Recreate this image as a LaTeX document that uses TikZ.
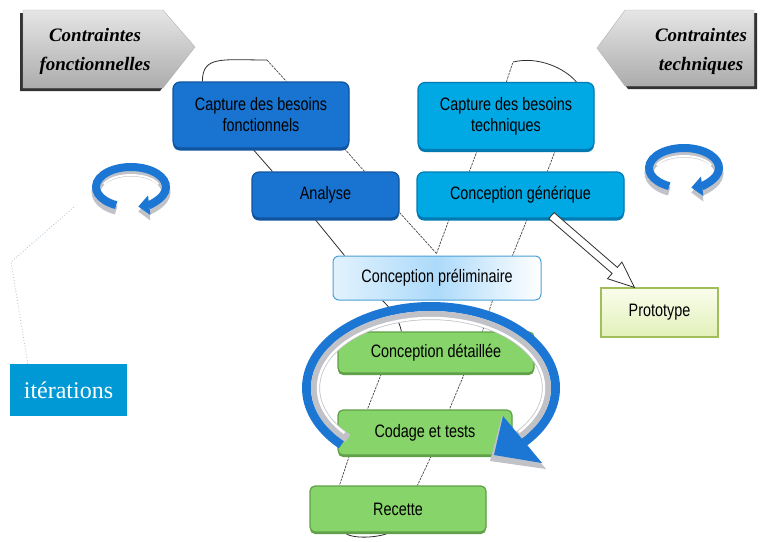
\documentclass[tikz,border=0pt]{standalone}
\usepackage{fontspec}
\setmainfont{Liberation Sans}[FakeStretch=0.8]
\newfontfamily\ctfont{Liberation Serif}
\newfontfamily\itfont{Liberation Serif}
\usetikzlibrary{calc,shadows,arrows.meta}
\pgfdeclarelayer{bg}
\pgfsetlayers{bg,main}
\definecolor{fblue}{RGB}{24,116,208}
\definecolor{fblueD}{RGB}{16,84,160}
\definecolor{tblue}{RGB}{0,168,228}
\definecolor{tblueD}{RGB}{0,122,178}
\definecolor{gfill}{RGB}{134,212,106}
\definecolor{gdraw}{RGB}{95,160,72}
\definecolor{cpdraw}{RGB}{76,160,214}
\definecolor{cplight}{RGB}{172,218,250}
\definecolor{prdraw}{RGB}{160,190,90}
\definecolor{prtop}{RGB}{250,253,236}
\definecolor{prbot}{RGB}{226,240,185}
\definecolor{ringblue}{RGB}{28,118,212}
\definecolor{silver}{RGB}{192,194,200}
\definecolor{iterblue}{RGB}{0,153,213}
\definecolor{linec}{RGB}{45,45,45}
\definecolor{dotc}{RGB}{185,200,212}
\newcommand\smallring[1]{%
  \begin{scope}[shift={#1}]
    \draw[line width=9pt, silver, -{Triangle[length=11pt,width=20pt]}]
      (0,5) ++(115:35 and 20) arc[start angle=115, end angle=438, x radius=35, y radius=20];
    \draw[line width=2pt, white]
      (0,2) ++(200:29 and 14) arc[start angle=200, end angle=340, x radius=29, y radius=14];
    \draw[line width=8pt, ringblue, -{Triangle[length=11pt,width=19pt]}]
      (0,0) ++(115:35 and 20) arc[start angle=115, end angle=438, x radius=35, y radius=20];
  \end{scope}}
\begin{document}
\begin{tikzpicture}[x=1pt,y=-1pt,
  box/.style={rounded corners=7pt, line width=1.2pt, align=center, inner sep=0pt,
    font=\fontsize{18}{21}\selectfont},
  fbox/.style={box, fill=fblue, draw=fblueD,
    drop shadow={shadow xshift=0pt, shadow yshift=-2.5pt, fill=fblueD, opacity=1}},
  tbox/.style={box, fill=tblue, draw=tblueD,
    drop shadow={shadow xshift=0pt, shadow yshift=-2.5pt, fill=tblueD, opacity=1}},
  gbox/.style={box, rounded corners=5pt, fill=gfill, draw=gdraw,
    drop shadow={shadow xshift=0pt, shadow yshift=-2pt, fill=gdraw, opacity=1}},
  cpbox/.style={box, rounded corners=6pt, draw=cpdraw, line width=1pt,
    left color=cplight!35, right color=white, middle color=cplight},
  prbox/.style={box, rounded corners=0pt, draw=prdraw, line width=1.2pt,
    top color=prtop, bottom color=prbot},
  iterbox/.style={fill=iterblue, text=white, inner sep=0pt,
    font=\itfont\fontsize{24}{28}\selectfont},
  ctxt/.style={align=center, inner sep=0pt,
    font=\ctfont\bfseries\itshape\fontsize{19}{29}\selectfont},
  rib/.style={draw=linec, line width=0.8pt},
  ribd/.style={draw=gray!55!black, line width=0.7pt, dash pattern=on 2.5pt off 1pt},
  shell/.style={top color=gray!20, middle color=white, bottom color=gray!65, draw=gray!60}
]
\useasboundingbox (0,0) rectangle (760,541);

% contraintes shapes
\fill[black!80] (20,13) -- (160,13) -- (192,50) -- (160,91) -- (20,91) -- cycle;
\path[shell] (23,10) -- (163,10) -- (195,47) -- (163,88) -- (23,88) -- cycle;
\node[ctxt] (cfo) at (95,51) {Contraintes\\fonctionnelles};

\fill[black!80] (600,51) -- (628,13) -- (757,13) -- (757,89) -- (628,89) -- cycle;
\path[shell] (597,48) -- (625,10) -- (754,10) -- (754,86) -- (625,86) -- cycle;
\node[ctxt] (cte) at (701,51) {Contraintes\\techniques};

% boxes
\node[fbox, minimum width=176pt, minimum height=66pt] (cbf) at (261,115) {Capture des besoins\\fonctionnels};
\node[fbox, minimum width=147pt, minimum height=46pt] (ana) at (325.5,195) {Analyse};
\node[tbox, minimum width=176pt, minimum height=67pt] (cbt) at (506,116) {Capture des besoins\\techniques};
\node[tbox, minimum width=207pt, minimum height=46pt] (cg) at (520.5,195) {Conception générique};
\node[cpbox, minimum width=208pt, minimum height=44pt] (cp) at (437,278) {Conception préliminaire};
\node[prbox, minimum width=117pt, minimum height=49pt] (proto) at (659.5,312.5) {Prototype};
\node[gbox, minimum width=196pt, minimum height=41pt] (cd) at (436,352.5) {Conception détaillée};
\node[gbox, minimum width=174pt, minimum height=45pt] (ct) at (425,432.5) {Codage et tests};
\node[gbox, minimum width=176pt, minimum height=46pt] (rec) at (398,509) {Recette};
\node[iterbox, minimum width=117pt, minimum height=52pt] (iter) at (68.5,390) {itérations};

\coordinate (loopL) at (267,60);
\coordinate (loopR) at (513,62);
\coordinate (yj) at ([xshift=104pt, yshift=2pt]cp.north west);
\coordinate (ringLend) at (75,206);
\coordinate (bendL) at (11,262);

\begin{pgfonlayer}{bg}
% left arm
\draw[rib] ([xshift=30pt]cbf.north west) .. controls +(0,-26) and +(-45,0) .. (loopL);
\draw[ribd] (loopL) -- ([xshift=114pt]cbf.north west);
\draw[rib] ([xshift=80pt]cbf.south west) -- ([xshift=21pt]ana.north west);
\draw[ribd] ([xshift=172pt]cbf.south west) -- ([xshift=113pt]ana.north west);
\draw[rib] ([xshift=63pt]ana.south west) -- ([xshift=12pt]cp.north west);
\draw[ribd] ([yshift=6pt]ana.south east) -- (yj);
% right arm
\draw[ribd] ([xshift=89pt]cbt.north west) -- (loopR);
\draw[rib] (loopR) .. controls +(25,-6) and +(-12,-14) .. ([xshift=159pt]cbt.north west);
\draw[ribd] ([xshift=60pt]cbt.south west) -- ([xshift=53pt]cg.north west);
\draw[ribd] ([xshift=138pt]cbt.south west) -- ([xshift=131pt]cg.north west);
\draw[ribd] ([xshift=33pt]cg.south west) -- (yj);
\draw[ribd] ([xshift=111pt]cg.south west) -- ([xshift=180pt]cp.north west);
% stem
\draw[rib] ([xshift=50pt]cp.south west) .. controls +(12,12) and +(-2,-10) .. ([xshift=64pt]cd.north west);
\draw[ribd] ([xshift=160pt]cp.south west) -- ([xshift=145pt]cd.north west);
\draw[ribd] ([xshift=44pt]cd.south west) -- ([xshift=30pt]ct.north west);
\draw[ribd] ([xshift=127pt]cd.south west) -- ([xshift=112pt]ct.north west);
\draw[ribd] ([xshift=12pt]ct.south west) -- ([xshift=30pt]rec.north west);
\draw[ribd] ([xshift=94pt]ct.south west) -- ([xshift=108pt]rec.north west);
\draw[rib] ([xshift=35pt]rec.south west) .. controls +(8,7) and +(-10,5) .. ([xshift=80pt]rec.south west);
% iterations pointer
\draw[dotc, dotted, line width=0.9pt] ([xshift=18pt]iter.north west) -- (bendL) -- (ringLend);
\end{pgfonlayer}

% big ring
\coordinate (rc) at (431,388);
\draw[line width=9pt, ringblue] (rc) ++(136:124.5 and 81.5) arc[start angle=136, end angle=403, x radius=124.5, y radius=81.5];
\draw[line width=9pt, silver] (rc) ++(136:115.5 and 72.5) arc[start angle=136, end angle=403, x radius=115.5, y radius=72.5];
\draw[line width=2.5pt, white] (rc) ++(140:113 and 70) arc[start angle=140, end angle=399, x radius=113, y radius=70];
\fill[silver] (502,416) -- (490,461) -- (546,469) -- cycle;
\fill[ringblue] (503,416) -- (494,455) -- (542,463) -- cycle;

% small rings
\smallring{(131,187)}
\smallring{(684,168)}

% prototype arrow
\coordinate (pa) at ([xshift=135pt, yshift=3pt]cg.south west);
\coordinate (pb) at ([xshift=34pt]proto.north west);
\filldraw[fill=white, draw=linec, line width=0.8pt]
  ($(pa)!4pt!90:(pb)$) -- ($(pb)!26pt!(pa)!4pt!90:(pb)$) -- ($(pb)!26pt!(pa)!11pt!90:(pb)$)
  -- (pb) -- ($(pb)!26pt!(pa)!11pt!-90:(pb)$) -- ($(pb)!26pt!(pa)!4pt!-90:(pb)$)
  -- ($(pa)!4pt!-90:(pb)$) -- cycle;
\end{tikzpicture}
\end{document}
